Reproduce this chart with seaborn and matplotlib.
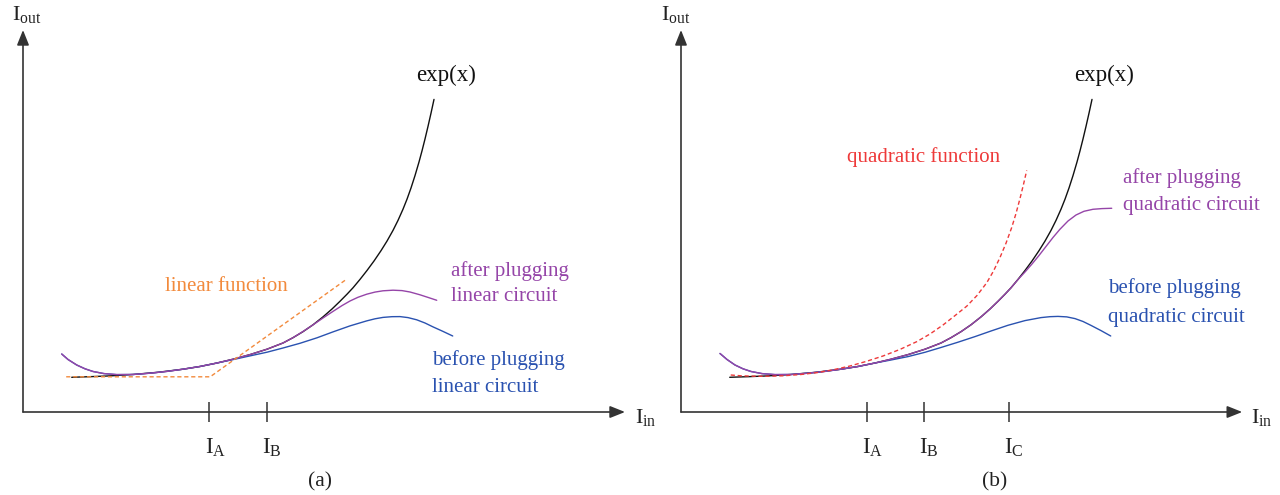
import matplotlib
matplotlib.use("Agg")
import matplotlib.pyplot as plt
import seaborn as sns

# ---------------- panel (a): linear circuit ----------------
exp_a_x = [1.218, 1.675, 2.175, 2.750, 3.375, 4.000, 4.425, 4.850, 5.250, 5.675,
           6.100, 6.500, 6.750, 7.000, 7.250, 7.500, 7.725, 7.925, 8.100, 8.250,
           8.425, 8.600, 8.775, 8.950, 9.100, 9.250, 9.375, 9.500, 9.600, 9.700,
           9.800, 9.900, 9.975, 10.050, 10.125, 10.200, 10.275]
exp_a_y = [0.868, 0.883, 0.903, 0.938, 0.993, 1.070, 1.138, 1.225, 1.320, 1.435,
           1.570, 1.725, 1.858, 2.008, 2.180, 2.378, 2.575, 2.768, 2.945, 3.105,
           3.315, 3.538, 3.775, 4.033, 4.273, 4.540, 4.790, 5.070, 5.320, 5.600,
           5.910, 6.250, 6.528, 6.825, 7.140, 7.470, 7.815]

after_a_x = [0.968, 1.125, 1.343, 1.550, 1.750, 2.025, 2.343, 2.750, 3.175, 3.600,
             4.000, 4.425, 4.850, 5.250, 5.675, 6.100, 6.500, 6.750, 7.000, 7.250,
             7.500, 7.750, 7.975, 8.175, 8.375, 8.593, 8.800, 9.000, 9.250, 9.475,
             9.675, 9.925, 10.125, 10.343]
after_a_y = [1.450, 1.313, 1.175, 1.080, 1.013, 0.960, 0.935, 0.938, 0.970, 1.015,
             1.070, 1.138, 1.225, 1.320, 1.435, 1.570, 1.725, 1.858, 2.013, 2.178,
             2.350, 2.515, 2.660, 2.775, 2.868, 2.945, 2.998, 3.030, 3.045, 3.035,
             3.000, 2.930, 2.865, 2.793]

before_a_x = [0.968, 1.125, 1.343, 1.550, 1.750, 2.025, 2.343, 2.750, 3.175, 3.600,
              4.000, 4.425, 4.850, 5.250, 5.675, 6.100, 6.500, 6.925, 7.350, 7.750,
              8.175, 8.593, 8.800, 9.000, 9.225, 9.425, 9.625, 9.843, 10.050, 10.250,
              10.500, 10.743]
before_a_y = [1.450, 1.313, 1.175, 1.080, 1.013, 0.960, 0.935, 0.938, 0.970, 1.015,
              1.070, 1.138, 1.225, 1.310, 1.403, 1.495, 1.600, 1.718, 1.855, 2.003,
              2.153, 2.278, 2.330, 2.365, 2.383, 2.385, 2.360, 2.305, 2.225, 2.128,
              2.015, 1.900]

linear_x = [1.08, 4.68, 8.09]
linear_y = [0.88, 0.88, 3.32]

ticks_a = [4.66, 6.09]
tick_labels_a = ["A", "B"]

# ---------------- panel (b): quadratic circuit ----------------
exp_b_x = list(exp_a_x)
exp_b_y = list(exp_a_y)

after_b_x = [0.975, 1.150, 1.350, 1.550, 1.750, 2.025, 2.350, 2.750, 3.175, 3.600,
             4.000, 4.425, 4.850, 5.250, 5.675, 6.100, 6.500, 6.750, 7.000, 7.250,
             7.500, 7.725, 7.925, 8.100, 8.250, 8.425, 8.600, 8.775, 8.950, 9.125,
             9.300, 9.475, 9.675, 9.875, 10.075, 10.300, 10.525, 10.768]
after_b_y = [1.463, 1.313, 1.175, 1.080, 1.013, 0.960, 0.935, 0.938, 0.970, 1.015,
             1.070, 1.138, 1.225, 1.320, 1.435, 1.570, 1.725, 1.858, 2.008, 2.180,
             2.378, 2.575, 2.768, 2.945, 3.105, 3.313, 3.500, 3.700, 3.913, 4.138,
             4.363, 4.570, 4.775, 4.925, 5.018, 5.068, 5.085, 5.093]

before_b_x = [0.975, 1.150, 1.350, 1.550, 1.750, 2.025, 2.350, 2.750, 3.175, 3.600,
              4.000, 4.425, 4.850, 5.250, 5.675, 6.100, 6.500, 6.925, 7.350, 7.750,
              8.175, 8.600, 9.000, 9.225, 9.425, 9.643, 9.850, 10.050, 10.250, 10.500,
              10.743]
before_b_y = [1.463, 1.313, 1.175, 1.080, 1.013, 0.960, 0.935, 0.938, 0.970, 1.015,
              1.070, 1.138, 1.225, 1.300, 1.385, 1.493, 1.613, 1.745, 1.885, 2.025,
              2.168, 2.285, 2.360, 2.383, 2.390, 2.378, 2.335, 2.263, 2.165, 2.035,
              1.900]

quad_x = [1.243, 1.500, 1.725, 2.125, 2.550, 2.975, 3.393, 3.800, 4.225, 4.625,
          5.050, 5.475, 5.893, 6.225, 6.550, 6.850, 7.143, 7.400, 7.643, 7.813,
          7.975, 8.125, 8.268, 8.375, 8.475, 8.563, 8.643]
quad_y = [0.925, 0.905, 0.898, 0.893, 0.905, 0.935, 0.983, 1.055, 1.150, 1.263,
          1.400, 1.565, 1.758, 1.950, 2.175, 2.410, 2.645, 2.913, 3.230, 3.525,
          3.863, 4.220, 4.613, 4.963, 5.338, 5.693, 6.038]

ticks_b = [4.64, 6.08, 8.20]
tick_labels_b = ["A", "B", "C"]

# ---------------- style ----------------
BLACK = "#111111"
PURPLE = "#9545a8"
BLUE = "#2a52b0"
ORANGE = "#f28a3c"
RED = "#ee3a3a"
AXIS = "#333333"
TEXT = "#222222"

sns.set_theme(style="white")
plt.rcParams["font.family"] = ["Liberation Serif", "DejaVu Serif"]
plt.rcParams["mathtext.fontset"] = "custom"
plt.rcParams["mathtext.rm"] = "Liberation Serif"
plt.rcParams["mathtext.it"] = "Liberation Serif:italic"
plt.rcParams["mathtext.bf"] = "Liberation Serif:bold"

W, H = 1280, 495
UNIT = 40.0  # pixels per data unit on both axes

fig = plt.figure(figsize=(W / 100, H / 100), dpi=100)
fig.patch.set_facecolor("white")


def make_axes(x0_px, y0_px, xlen, ylen):
    ax = fig.add_axes([x0_px / W, (H - y0_px) / H, xlen * UNIT / W, ylen * UNIT / H])
    ax.set_xlim(0, xlen)
    ax.set_ylim(0, ylen)
    ax.axis("off")
    arrow = dict(arrowstyle="-|>,head_length=0.7,head_width=0.28", color=AXIS,
                 lw=1.2, shrinkA=0, shrinkB=0, mutation_scale=13)
    ax.annotate("", xy=(xlen, 0), xytext=(0, 0), arrowprops=arrow, annotation_clip=False)
    ax.annotate("", xy=(0, ylen), xytext=(0, 0), arrowprops=arrow, annotation_clip=False)
    return ax


def curve(ax, xs, ys, color, dashed=False, z=2):
    sns.lineplot(x=xs, y=ys, ax=ax, color=color, linewidth=1.0, sort=False,
                 estimator=None, zorder=z)
    line = ax.lines[-1]
    line.set_clip_on(False)
    line.set_solid_joinstyle("round")
    line.set_solid_capstyle("round")
    if dashed:
        line.set_linestyle((0, (3, 2)))


def axis_decor(ax, ticks, labels, iout_dx, iin_x):
    ax.vlines(ticks, -0.25, 0.25, color=AXIS, lw=1.1, clip_on=False)
    for t, lab in zip(ticks, labels):
        ax.text(t - 0.12, -1.05, r"$\mathrm{I}_{\mathrm{%s}}$" % lab, fontsize=16.5,
                ha="left", va="baseline", color=TEXT, clip_on=False)
    ax.text(iout_dx, 9.8, r"$\mathrm{I}_{\mathrm{out}}$", fontsize=16, ha="left",
            va="baseline", color=TEXT, clip_on=False)
    ax.text(iin_x, -0.27, r"$\mathrm{I}_{\mathrm{in}}$", fontsize=16, ha="left",
            va="baseline", color=TEXT, clip_on=False)


fs = 15

# panel (a)
ax_a = make_axes(23, 412, 15.05, 9.55)
curve(ax_a, exp_a_x, exp_a_y, BLACK, z=2)
curve(ax_a, before_a_x, before_a_y, BLUE, z=3)
curve(ax_a, after_a_x, after_a_y, PURPLE, z=4)
curve(ax_a, linear_x, linear_y, ORANGE, dashed=True, z=5)
axis_decor(ax_a, ticks_a, tick_labels_a, -0.28, 15.3)

ax_a.text(10.58, 8.27, "exp(x)", fontsize=16.5, ha="center", va="baseline", color=BLACK)
ax_a.text(3.55, 3.03, "linear function", fontsize=fs, ha="left", va="baseline", color=ORANGE)
ax_a.text(10.70, 3.40, "after plugging", fontsize=fs, ha="left", va="baseline", color=PURPLE)
ax_a.text(10.70, 2.78, "linear circuit", fontsize=fs, ha="left", va="baseline", color=PURPLE)
ax_a.text(10.22, 1.18, "before plugging", fontsize=fs, ha="left", va="baseline", color=BLUE)
ax_a.text(10.22, 0.51, "linear circuit", fontsize=fs, ha="left", va="baseline", color=BLUE)

# panel (b)
ax_b = make_axes(681, 412, 14.03, 9.55)
curve(ax_b, exp_b_x, exp_b_y, BLACK, z=2)
curve(ax_b, before_b_x, before_b_y, BLUE, z=3)
curve(ax_b, after_b_x, after_b_y, PURPLE, z=4)
curve(ax_b, quad_x, quad_y, RED, dashed=True, z=5)
axis_decor(ax_b, ticks_b, tick_labels_b, -0.5, 14.25)

ax_b.text(10.58, 8.27, "exp(x)", fontsize=16.5, ha="center", va="baseline", color=BLACK)
ax_b.text(4.14, 6.26, "quadratic function", fontsize=fs, ha="left", va="baseline", color=RED)
ax_b.text(11.06, 5.72, "after plugging", fontsize=fs, ha="left", va="baseline", color=PURPLE)
ax_b.text(11.06, 5.05, "quadratic circuit", fontsize=fs, ha="left", va="baseline", color=PURPLE)
ax_b.text(10.68, 2.97, "before plugging", fontsize=fs, ha="left", va="baseline", color=BLUE)
ax_b.text(10.68, 2.26, "quadratic circuit", fontsize=fs, ha="left", va="baseline", color=BLUE)

# panel captions
fig.text(320 / W, 1 - 482 / H, "(a)", fontsize=15.5, ha="center", va="center", color=TEXT)
fig.text(995 / W, 1 - 482 / H, "(b)", fontsize=15.5, ha="center", va="center", color=TEXT)

fig.savefig("out.png", dpi=100, facecolor="white")
